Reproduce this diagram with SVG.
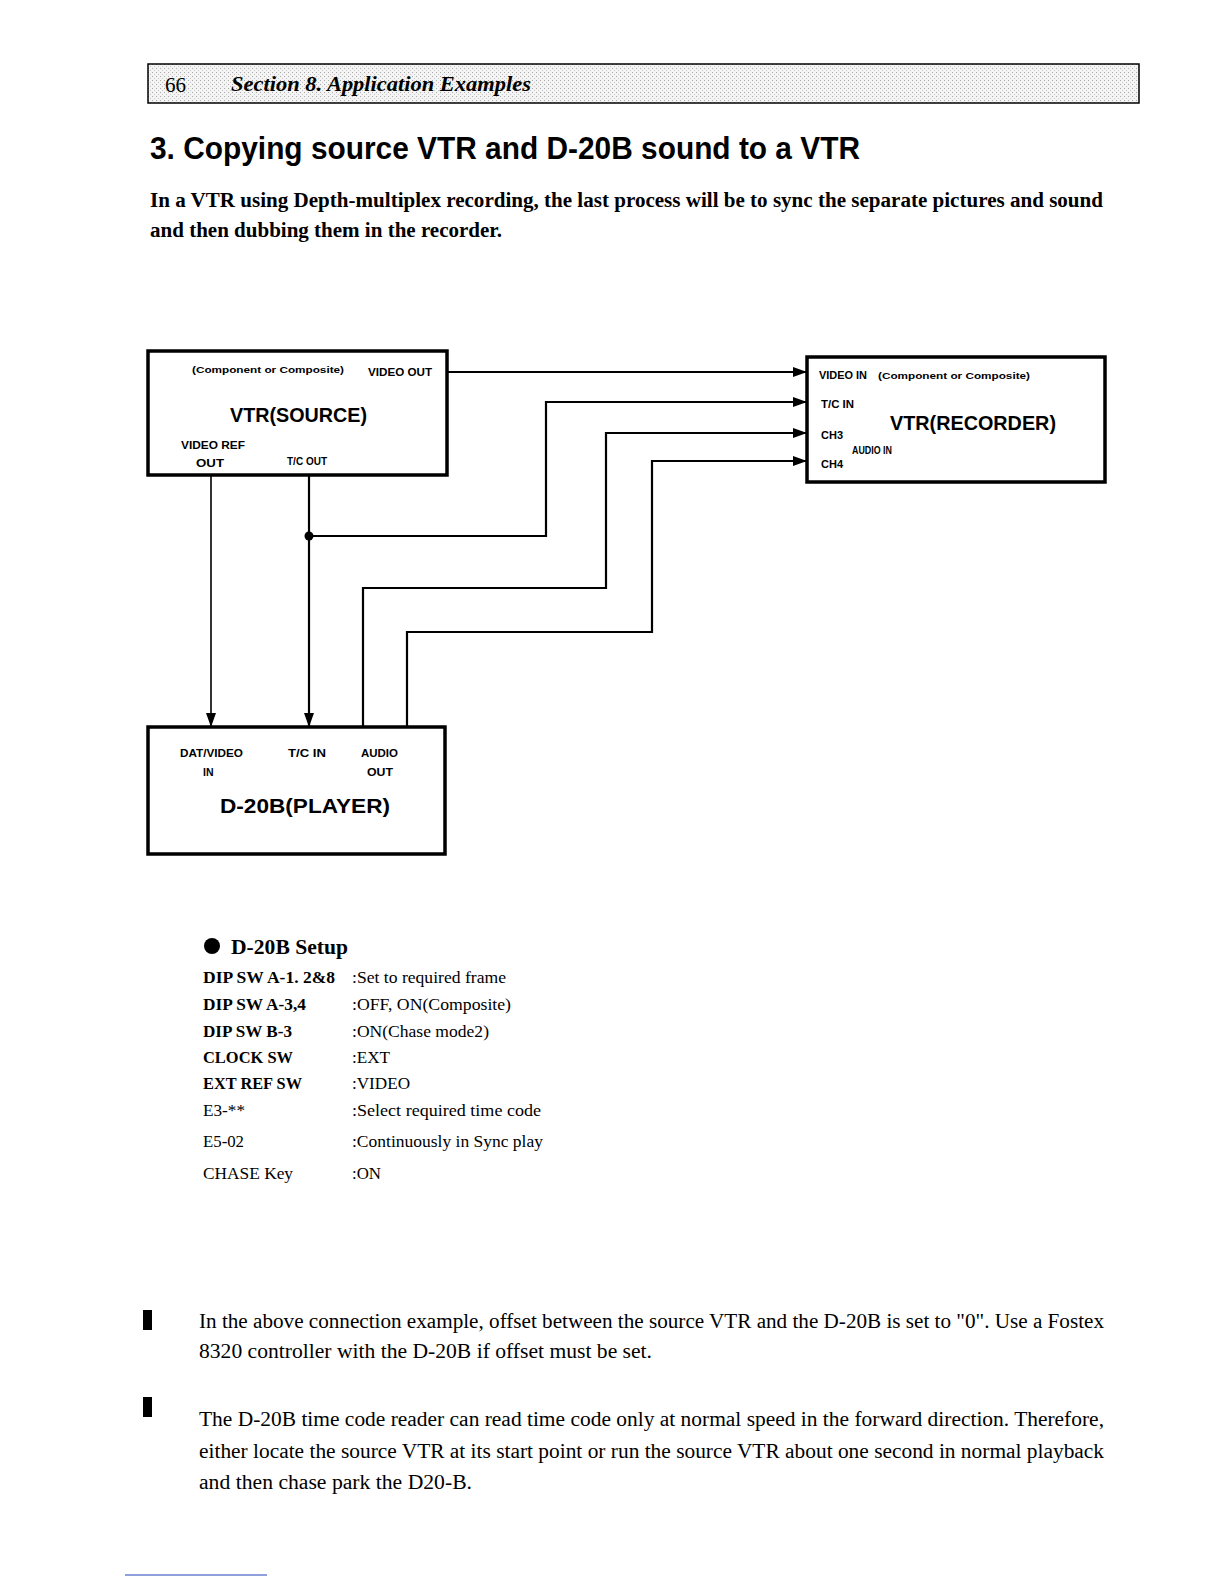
<svg xmlns="http://www.w3.org/2000/svg" width="1224" height="1584" viewBox="0 0 1224 1584">
<style>
.box{fill:#fff;stroke:#000;stroke-width:3.5}
.lbl{font-family:"Liberation Sans",Arial,sans-serif;font-weight:bold;font-size:10.5px;fill:#000}
.sm{font-family:"Liberation Sans",Arial,sans-serif;font-weight:bold;font-size:9.5px;fill:#000}
.big{font-family:"Liberation Sans",Arial,sans-serif;font-weight:bold;font-size:20px;fill:#000}
.wire{fill:none;stroke:#000;stroke-width:2.2}
.thin{fill:none;stroke:#000;stroke-width:1.6}
.body{font-family:"Liberation Serif","Times New Roman",serif;font-size:20px;fill:#000}
.bodyb{font-family:"Liberation Serif","Times New Roman",serif;font-size:20px;font-weight:bold;fill:#000}
.set{font-family:"Liberation Serif","Times New Roman",serif;font-size:17px;fill:#000}
.setb{font-family:"Liberation Serif","Times New Roman",serif;font-size:17px;font-weight:bold;fill:#000}
</style>
<defs>
<pattern id="dots" width="4" height="4" patternUnits="userSpaceOnUse">
<rect width="4" height="4" fill="#f4f4f4"/>
<rect x="0" y="0" width="1" height="1" fill="#aaa"/>
<rect x="2" y="2" width="1" height="1" fill="#c8c8c8"/>
</pattern>
<marker id="arr" markerUnits="userSpaceOnUse" markerWidth="14" markerHeight="10" refX="14" refY="5" orient="auto">
<path d="M0,0 L14,5 L0,10 z" fill="#000"/>
</marker>
</defs>
<rect width="1224" height="1584" fill="#fff"/>

<g id="header">
<rect x="148" y="64" width="991" height="39" fill="url(#dots)" stroke="#000" stroke-width="1.5"/>
<text x="165" y="92" style="font-family:'Liberation Serif',serif;font-size:21px;fill:#000">66</text>
<text x="231" y="91" textLength="300" lengthAdjust="spacingAndGlyphs" style="font-family:'Liberation Serif',serif;font-size:20px;font-weight:bold;font-style:italic;fill:#000">Section 8. Application Examples</text>
</g>

<g id="title">
<text x="150" y="159" textLength="710" lengthAdjust="spacingAndGlyphs" style="font-family:'Liberation Sans',Arial,sans-serif;font-size:31px;font-weight:bold;fill:#000">3. Copying source VTR and D-20B sound to a VTR</text>
<text class="bodyb" x="150" y="207" textLength="953" lengthAdjust="spacingAndGlyphs">In a VTR using Depth-multiplex recording, the last process will be to sync the separate pictures  and sound</text>
<text class="bodyb" x="150" y="237" textLength="352" lengthAdjust="spacingAndGlyphs">and then dubbing them in the recorder.</text>
</g>

<g id="connectors">
<line class="wire" x1="447" y1="372" x2="807" y2="372" marker-end="url(#arr)"/>
<polyline class="wire" points="309,536 546,536 546,402 807,402" marker-end="url(#arr)"/>
<polyline class="wire" points="363,727 363,588 606,588 606,433 807,433" marker-end="url(#arr)"/>
<polyline class="wire" points="407,727 407,632 652,632 652,461 807,461" marker-end="url(#arr)"/>
<line class="thin" x1="211" y1="475" x2="211" y2="727" marker-end="url(#arr)"/>
<line class="wire" x1="309" y1="475" x2="309" y2="727" stroke-width="2.8" marker-end="url(#arr)"/>
<circle cx="309" cy="536" r="4.5" fill="#000"/>
</g>

<g id="vtr-source">
<rect class="box" x="148" y="351" width="299" height="124"/>
<text class="sm" x="192" y="373" textLength="152" lengthAdjust="spacingAndGlyphs">(Component or Composite)</text>
<text class="lbl" x="368" y="376" textLength="64" lengthAdjust="spacingAndGlyphs">VIDEO OUT</text>
<text class="big" x="230" y="422" textLength="137" lengthAdjust="spacingAndGlyphs">VTR(SOURCE)</text>
<text class="lbl" x="181" y="449" textLength="64" lengthAdjust="spacingAndGlyphs">VIDEO REF</text>
<text class="lbl" x="196" y="467" textLength="28" lengthAdjust="spacingAndGlyphs">OUT</text>
<text class="lbl" x="287" y="465" textLength="40" lengthAdjust="spacingAndGlyphs">T/C OUT</text>
</g>

<g id="vtr-recorder">
<rect class="box" x="807" y="357" width="298" height="125"/>
<text class="lbl" x="819" y="379" textLength="48" lengthAdjust="spacingAndGlyphs">VIDEO IN</text>
<text class="sm" x="878" y="379" textLength="152" lengthAdjust="spacingAndGlyphs">(Component or Composite)</text>
<text class="lbl" x="821" y="408" textLength="33" lengthAdjust="spacingAndGlyphs">T/C IN</text>
<text class="big" x="890" y="430" textLength="166" lengthAdjust="spacingAndGlyphs">VTR(RECORDER)</text>
<text class="lbl" x="821" y="439" textLength="22" lengthAdjust="spacingAndGlyphs">CH3</text>
<text class="lbl" x="852" y="454" textLength="40" lengthAdjust="spacingAndGlyphs">AUDIO IN</text>
<text class="lbl" x="821" y="468" textLength="22" lengthAdjust="spacingAndGlyphs">CH4</text>
</g>

<g id="d20b-player">
<rect class="box" x="148" y="727" width="297" height="127"/>
<text class="lbl" x="180" y="757" textLength="63" lengthAdjust="spacingAndGlyphs">DAT/VIDEO</text>
<text class="lbl" x="203" y="776">IN</text>
<text class="lbl" x="288" y="757" textLength="38" lengthAdjust="spacingAndGlyphs">T/C IN</text>
<text class="lbl" x="361" y="757" textLength="37" lengthAdjust="spacingAndGlyphs">AUDIO</text>
<text class="lbl" x="367" y="776" textLength="26" lengthAdjust="spacingAndGlyphs">OUT</text>
<text class="big" x="220" y="813" textLength="170" lengthAdjust="spacingAndGlyphs">D-20B(PLAYER)</text>
</g>

<g id="setup">
<circle cx="212" cy="946" r="8" fill="#000"/>
<text x="231" y="954" textLength="117" lengthAdjust="spacingAndGlyphs" style="font-family:'Liberation Serif',serif;font-size:21px;font-weight:bold;fill:#000">D-20B Setup</text>
<text class="setb" x="203" y="983" textLength="132" lengthAdjust="spacingAndGlyphs">DIP SW A-1. 2&amp;8</text>
<text class="set" x="352" y="983" textLength="154" lengthAdjust="spacingAndGlyphs">:Set to required frame</text>
<text class="setb" x="203" y="1010" textLength="103" lengthAdjust="spacingAndGlyphs">DIP SW A-3,4</text>
<text class="set" x="352" y="1010" textLength="159" lengthAdjust="spacingAndGlyphs">:OFF, ON(Composite)</text>
<text class="setb" x="203" y="1037" textLength="89" lengthAdjust="spacingAndGlyphs">DIP SW B-3</text>
<text class="set" x="352" y="1037" textLength="137" lengthAdjust="spacingAndGlyphs">:ON(Chase mode2)</text>
<text class="setb" x="203" y="1063" textLength="90" lengthAdjust="spacingAndGlyphs">CLOCK SW</text>
<text class="set" x="352" y="1063" textLength="38" lengthAdjust="spacingAndGlyphs">:EXT</text>
<text class="setb" x="203" y="1089" textLength="99" lengthAdjust="spacingAndGlyphs">EXT REF SW</text>
<text class="set" x="352" y="1089" textLength="58" lengthAdjust="spacingAndGlyphs">:VIDEO</text>
<text class="set" x="203" y="1116" textLength="42" lengthAdjust="spacingAndGlyphs">E3-**</text>
<text class="set" x="352" y="1116" textLength="189" lengthAdjust="spacingAndGlyphs">:Select required time code</text>
<text class="set" x="203" y="1147" textLength="41" lengthAdjust="spacingAndGlyphs">E5-02</text>
<text class="set" x="352" y="1147" textLength="191" lengthAdjust="spacingAndGlyphs">:Continuously in Sync play</text>
<text class="set" x="203" y="1179" textLength="90" lengthAdjust="spacingAndGlyphs">CHASE Key</text>
<text class="set" x="352" y="1179" textLength="29" lengthAdjust="spacingAndGlyphs">:ON</text>
</g>

<g id="notes">
<rect x="143" y="1310" width="9" height="20" fill="#000"/>
<text class="body" x="199" y="1328" textLength="905" lengthAdjust="spacingAndGlyphs">In the above connection example, offset between the source VTR and the D-20B is set to "0".  Use a Fostex</text>
<text class="body" x="199" y="1358" textLength="453" lengthAdjust="spacingAndGlyphs">8320 controller with the D-20B if offset must be set.</text>
<rect x="143" y="1397" width="9" height="20" fill="#000"/>
<text class="body" x="199" y="1426" textLength="905" lengthAdjust="spacingAndGlyphs">The D-20B time code reader can read time code only at normal speed in the forward direction.  Therefore,</text>
<text class="body" x="199" y="1458" textLength="905" lengthAdjust="spacingAndGlyphs">either locate the source VTR at its start point or run the source VTR about one second in normal playback</text>
<text class="body" x="199" y="1489" textLength="273" lengthAdjust="spacingAndGlyphs">and then chase park the D20-B.</text>
</g>

<line x1="125" y1="1575" x2="267" y2="1575" stroke="#6a80d0" stroke-width="1.5"/>
</svg>
